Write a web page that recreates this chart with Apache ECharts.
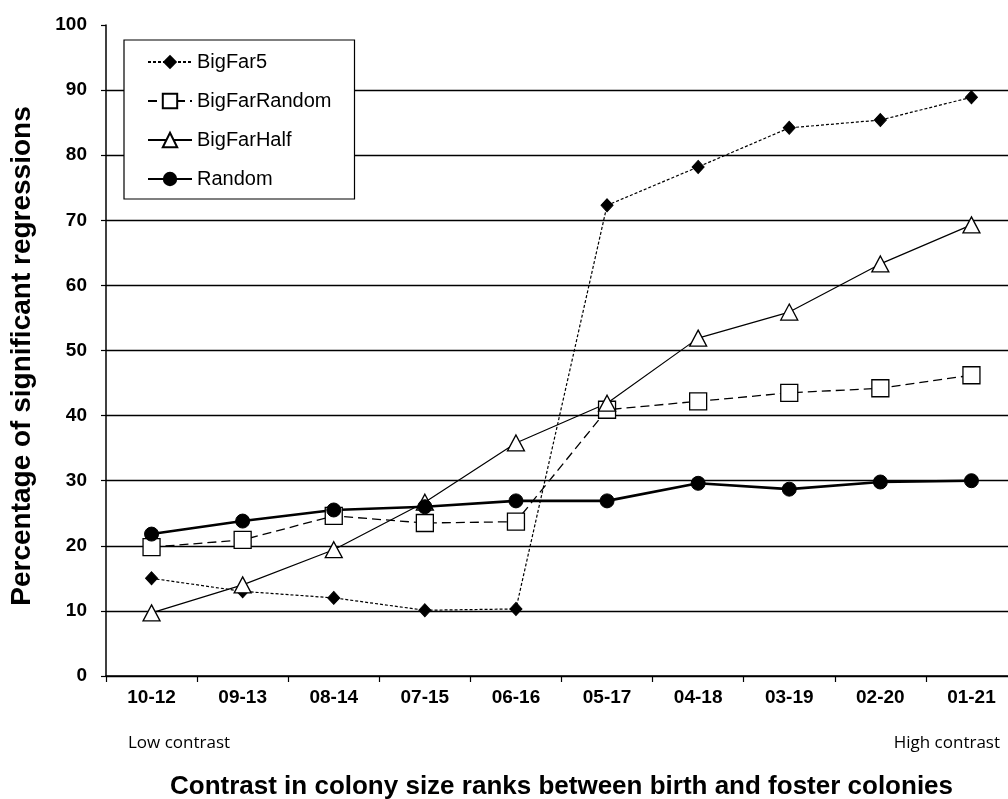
<!DOCTYPE html>
<html><head><meta charset="utf-8">
<script src="https://cdn.jsdelivr.net/npm/echarts@6/dist/echarts.min.js"></script>
<style>html,body{margin:0;padding:0;background:#fff}#c{width:1008px;height:799px}</style>
</head><body><div id="c"></div>
<script>
var categories = ['10-12','09-13','08-14','07-15','06-16','05-17','04-18','03-19','02-20','01-21'];
var bigFar5 = [15.0, 13.0, 12.0, 10.1, 10.3, 72.3, 78.2, 84.2, 85.4, 88.9];
var bigFarRandom = [19.8, 20.9, 24.6, 23.5, 23.7, 40.9, 42.2, 43.5, 44.2, 46.2];
var bigFarHalf = [9.7, 14.0, 19.4, 26.7, 35.8, 41.9, 51.9, 55.9, 63.3, 69.3];
var randomS = [21.8, 23.8, 25.5, 26.0, 26.9, 26.9, 29.6, 28.7, 29.8, 30.0];
var yTicks = [0,10,20,30,40,50,60,70,80,90,100];

var chart = echarts.init(document.getElementById('c'), null, {renderer:'canvas'});
var font = 'Liberation Sans, Arial, sans-serif';
chart.setOption({
  backgroundColor:'#fff',
  animation:false,
  grid:{left:106, width:911, top:25, bottom:123, containLabel:false, outerBoundsMode:'none'},
  legend:{
    orient:'vertical', left:124, top:40,
    backgroundColor:'#fff', borderColor:'#000', borderWidth:1.2,
    padding:[12,23,10,23],
    itemWidth:44, itemHeight:18, itemGap:19,
    textStyle:{fontFamily:font, fontSize:20, color:'#000'},
    data:['BigFar5','BigFarRandom','BigFarHalf','Random']
  },
  xAxis:{
    type:'category', data:categories,
    axisLine:{lineStyle:{color:'#000', width:1.5}},
    axisTick:{show:true, length:6, lineStyle:{color:'#000', width:1.2}},
    axisLabel:{fontFamily:font, fontSize:19, fontWeight:'bold', color:'#000', margin:12},
    name:'Contrast in colony size ranks between birth and foster colonies',
    nameLocation:'middle', nameGap:98,
    nameTextStyle:{fontFamily:font, fontSize:26, fontWeight:'bold', color:'#000'}
  },
  yAxis:{
    type:'value', min:yTicks[0], max:yTicks[yTicks.length-1], interval:10,
    axisLine:{show:true, lineStyle:{color:'#000', width:1.5}},
    axisTick:{show:true, length:5, lineStyle:{color:'#000', width:1.2}},
    axisLabel:{fontFamily:font, fontSize:19, fontWeight:'bold', color:'#000', margin:19},
    splitLine:{show:true, showMaxLine:false, lineStyle:{color:'#000', width:1.3}}
  },
  graphic:[
    {type:'text', x:22, y:356, rotation:Math.PI/2,
     style:{text:'Percentage of significant regressions', font:'bold 28px "Liberation Sans", Arial, sans-serif', fill:'#000', textAlign:'center', textVerticalAlign:'middle'}},
    {type:'text', x:128, y:743, style:{text:'Low contrast', font:'17px "Open Sans", sans-serif', fill:'#000', textVerticalAlign:'middle'}},
    {type:'text', x:1000, y:743, style:{text:'High contrast', font:'17px "Open Sans", sans-serif', fill:'#000', textAlign:'right', textVerticalAlign:'middle'}}
  ],
  series:[
    {name:'BigFar5', type:'line', data:bigFar5, symbol:'diamond', symbolSize:[12,13],
     lineStyle:{color:'#000', width:1.2, type:[3,2]}, itemStyle:{color:'#000', borderColor:'#000'}},
    {name:'BigFarRandom', type:'line', data:bigFarRandom, symbol:'rect', symbolSize:17,
     lineStyle:{color:'#000', width:1.3, type:[9,5]}, itemStyle:{color:'#fff', borderColor:'#000', borderWidth:1.3}},
    {name:'BigFarHalf', type:'line', data:bigFarHalf, symbol:'triangle', symbolSize:[17,16],
     lineStyle:{color:'#000', width:1.2}, itemStyle:{color:'#fff', borderColor:'#000', borderWidth:1.3}},
    {name:'Random', type:'line', data:randomS, symbol:'circle', symbolSize:14,
     lineStyle:{color:'#000', width:2.6}, itemStyle:{color:'#000', borderColor:'#000'}}
  ]
});
</script></body></html>
